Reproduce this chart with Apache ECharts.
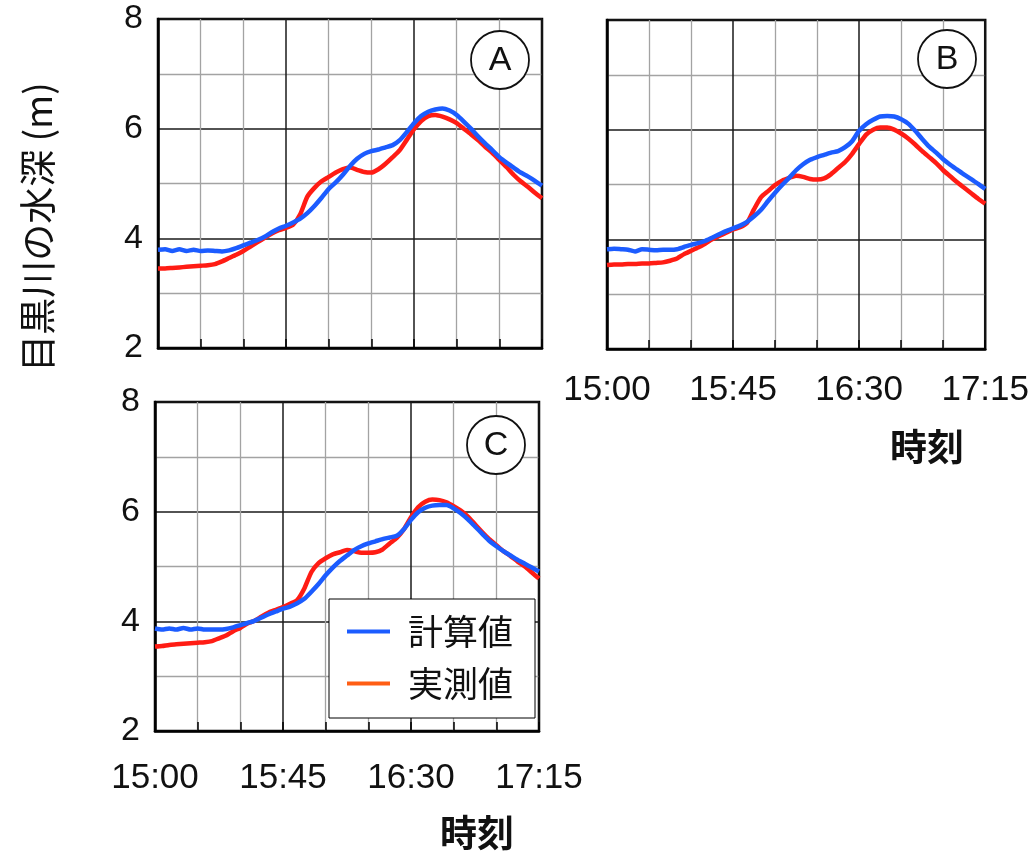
<!DOCTYPE html>
<html><head><meta charset="utf-8">
<script src="https://cdn.jsdelivr.net/npm/echarts@6/dist/echarts.min.js"></script>
<style>html,body{margin:0;padding:0;background:#fff}#c{width:1032px;height:854px}</style>
</head><body><div id="c"></div><script>
// minutes after 15:00
const MINUTES = [0,2.5,5,7.5,10,12.5,15,17.5,20,22.5,25,27.5,30,32.5,35,37.5,40,42.5,45,47.5,50,52.5,55,57.5,60,62.5,65,67.5,70,72.5,75,77.5,80,82.5,85,87.5,90,92.5,95,97.5,100,102.5,105,107.5,110,112.5,115,117.5,120,122.5,125,127.5,130,132.5,135];
const X_TICK_LABELS = ['15:00','15:45','16:30','17:15'];
const Y_TICKS = [2,4,6,8];
const SERIES_CALC = '計算値';
const SERIES_MEAS = '実測値';
const PANEL_NAMES = ['A','B','C'];

const A_CALC = [3.79,3.80,3.77,3.80,3.77,3.79,3.77,3.78,3.77,3.76,3.78,3.82,3.87,3.92,3.97,4.03,4.11,4.18,4.23,4.29,4.36,4.46,4.59,4.74,4.90,5.02,5.16,5.32,5.45,5.54,5.59,5.62,5.66,5.70,5.79,5.94,6.10,6.23,6.31,6.35,6.37,6.33,6.25,6.13,6.00,5.86,5.73,5.61,5.48,5.38,5.29,5.20,5.13,5.05,4.96];
const A_MEAS = [3.45,3.45,3.46,3.47,3.48,3.49,3.50,3.51,3.53,3.58,3.64,3.70,3.77,3.85,3.93,4.01,4.09,4.15,4.19,4.25,4.44,4.76,4.92,5.04,5.12,5.20,5.26,5.29,5.25,5.21,5.20,5.26,5.36,5.48,5.61,5.80,5.99,6.14,6.23,6.25,6.22,6.17,6.10,6.00,5.90,5.79,5.67,5.56,5.43,5.30,5.16,5.04,4.94,4.83,4.73];
const B_CALC = [3.82,3.83,3.82,3.81,3.78,3.82,3.81,3.80,3.81,3.81,3.82,3.86,3.90,3.93,3.97,4.03,4.09,4.15,4.20,4.25,4.32,4.42,4.54,4.70,4.85,4.99,5.12,5.26,5.37,5.45,5.50,5.54,5.58,5.61,5.68,5.79,5.98,6.10,6.18,6.24,6.25,6.24,6.19,6.11,5.98,5.83,5.69,5.58,5.46,5.36,5.27,5.18,5.10,5.01,4.92];
const B_MEAS = [3.53,3.54,3.54,3.55,3.55,3.56,3.56,3.57,3.58,3.61,3.65,3.73,3.79,3.85,3.92,4.00,4.06,4.12,4.18,4.22,4.30,4.55,4.77,4.88,4.99,5.07,5.12,5.16,5.14,5.10,5.09,5.11,5.19,5.30,5.41,5.56,5.74,5.91,6.00,6.04,6.04,6.00,5.93,5.84,5.73,5.61,5.50,5.39,5.26,5.15,5.04,4.94,4.84,4.74,4.65];
const C_CALC = [3.87,3.85,3.87,3.85,3.88,3.85,3.87,3.85,3.85,3.85,3.86,3.89,3.93,3.97,4.01,4.07,4.13,4.18,4.23,4.27,4.33,4.41,4.54,4.68,4.84,4.98,5.10,5.20,5.30,5.37,5.42,5.46,5.50,5.53,5.56,5.68,5.85,5.99,6.07,6.11,6.12,6.12,6.06,5.97,5.86,5.73,5.60,5.47,5.37,5.28,5.20,5.12,5.05,4.98,4.91];
const C_MEAS = [3.54,3.55,3.57,3.58,3.59,3.60,3.61,3.62,3.64,3.69,3.74,3.82,3.88,3.96,4.01,4.09,4.16,4.21,4.26,4.32,4.39,4.60,4.90,5.06,5.15,5.22,5.26,5.30,5.28,5.25,5.25,5.26,5.31,5.42,5.52,5.68,5.90,6.08,6.18,6.22,6.21,6.17,6.10,6.02,5.91,5.77,5.63,5.50,5.39,5.28,5.19,5.09,5.00,4.89,4.78];

const CALC = [A_CALC, B_CALC, C_CALC];
const MEAS = [A_MEAS, B_MEAS, C_MEAS];

const BLUE = '#1c5cff';
const RED = '#ff1c14';
const LEGEND_ORANGE = '#ff5e14';
const NUM_FONT = 'Liberation Sans';
const CJK_FONT = 'Noto Sans CJK JP';

const grids = [
  {left:158, top:19, width:384, height:329},
  {left:607, top:20, width:385, height:329},
  {left:155, top:402, width:384, height:329}
].map(g => Object.assign({show:true, borderColor:'#000', borderWidth:2.5, backgroundColor:'transparent'}, g));

const showX = [false, true, true];
const showY = [true, false, true];
const xMargin = [26, 24, 30];

const xAxes = grids.map((g, i) => ({
  type:'value', gridIndex:i, min:0, max:135, interval:45,
  axisLine:{show:true, onZero:false, lineStyle:{color:'#000', width:2.5}},
  axisTick:{show:true, inside:true, length:9, lineStyle:{color:'#000', width:1.5}},
  minorTick:{show:true, splitNumber:3, length:9, lineStyle:{color:'#000', width:1.5}},
  splitLine:{show:true, lineStyle:{color:'#1a1a1a', width:1.5}},
  minorSplitLine:{show:true, lineStyle:{color:'#a3a3a3', width:1.3}},
  axisLabel:{show:showX[i], margin:xMargin[i], fontSize:35, fontFamily:NUM_FONT, color:'#111',
    formatter: v => X_TICK_LABELS[Math.round(v/45)] || ''}
}));

const yAxes = grids.map((g, i) => ({
  type:'value', gridIndex:i, min:Y_TICKS[0], max:Y_TICKS[Y_TICKS.length-1], interval:2,
  axisLine:{show:true, onZero:false, lineStyle:{color:'#000', width:2.5}},
  axisTick:{show:false},
  minorTick:{show:false, splitNumber:2},
  splitLine:{show:true, lineStyle:{color:'#1a1a1a', width:1.5}},
  minorSplitLine:{show:true, lineStyle:{color:'#a3a3a3', width:1.3}},
  axisLabel:{show:showY[i], margin:15, fontSize:34, fontFamily:NUM_FONT, color:'#111'}
}));

const series = [];
for (let i = 0; i < 3; i++) {
  series.push({
    type:'line', name:SERIES_MEAS, xAxisIndex:i, yAxisIndex:i, showSymbol:false, smooth:0.2,
    lineStyle:{color:RED, width:4.5}, itemStyle:{color:RED},
    data: MINUTES.map((m, k) => [m, MEAS[i][k]])
  });
  series.push({
    type:'line', name:SERIES_CALC, xAxisIndex:i, yAxisIndex:i, showSymbol:false, smooth:0.2,
    lineStyle:{color:BLUE, width:4.5}, itemStyle:{color:BLUE},
    data: MINUTES.map((m, k) => [m, CALC[i][k]])
  });
}

const circles = [[500,60],[947,59],[496,445]];
const graphic = [];
circles.forEach((c, i) => {
  graphic.push({type:'circle', shape:{cx:c[0], cy:c[1], r:29}, style:{fill:'#fff', stroke:'#111', lineWidth:1.8}, z:50});
  graphic.push({type:'text', x:c[0], y:c[1]+1, style:{text:PANEL_NAMES[i], fill:'#111', font:'34px "'+NUM_FONT+'"', align:'center', verticalAlign:'middle'}, z:51});
});
graphic.push({type:'text', x:38, y:227, rotation:Math.PI/2,
  style:{text:'目黒川の水深 (m)', fill:'#111', font:'37px "'+CJK_FONT+'"', align:'center', verticalAlign:'middle'}});
graphic.push({type:'text', x:927, y:447, style:{text:'時刻', fill:'#111', font:'bold 37px "'+CJK_FONT+'"', align:'center', verticalAlign:'middle'}});
graphic.push({type:'text', x:477, y:833, style:{text:'時刻', fill:'#111', font:'bold 37px "'+CJK_FONT+'"', align:'center', verticalAlign:'middle'}});

const option = {
  backgroundColor:'#fff',
  animation:false,
  grid:grids,
  xAxis:xAxes,
  yAxis:yAxes,
  series:series,
  legend:{
    orient:'vertical', left:329, top:599,
    padding:[15,22,17,18], itemGap:17,
    backgroundColor:'#fff', borderColor:'#000', borderWidth:1,
    icon:'rect', itemWidth:43, itemHeight:4,
    textStyle:{fontSize:35, fontFamily:CJK_FONT, color:'#111', padding:[0,0,0,13]},
    data:[
      {name:SERIES_CALC, itemStyle:{color:BLUE}},
      {name:SERIES_MEAS, itemStyle:{color:LEGEND_ORANGE}}
    ],
    z:20
  },
  graphic:graphic
};
const chart = echarts.init(document.getElementById('c'), null, {renderer:'canvas'});
chart.setOption(option);
</script></body></html>
